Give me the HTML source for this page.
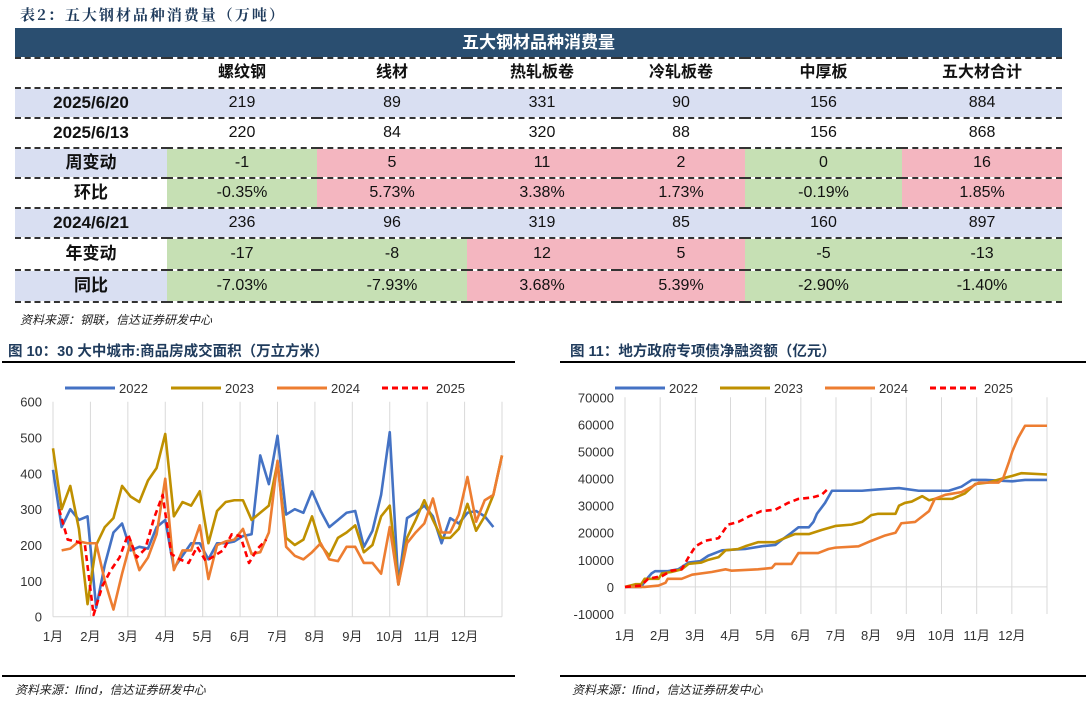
<!DOCTYPE html>
<html><head><meta charset="utf-8">
<style>
body{margin:0;width:1088px;height:701px;background:#fff;overflow:hidden;position:relative;font-family:"Liberation Sans","Noto Sans CJK SC",sans-serif;}
.abs{position:absolute;}
.cap{font-family:"Noto Serif CJK SC","Liberation Serif",serif;color:#1f3b5c;font-size:15px;font-weight:bold;letter-spacing:2px;}
.src{font-size:12px;font-style:italic;color:#222;}
.ttl{font-size:14.5px;font-weight:bold;color:#1f3b5c;}
table{border-collapse:collapse;position:absolute;left:15px;top:28px;width:1047px;font-size:16px;table-layout:fixed;}
tr{height:30px;}
td{height:28px;line-height:20px;text-align:center;padding:0;border-bottom:2px dashed #333;color:#111;box-sizing:border-box;overflow:hidden;}
tr.tall{height:32px;}
td.l{font-weight:bold;font-size:17px;}
.lav td{background:#d9dff2;}
.lav td.g,.g{background:#c6e0b4!important;}
.lav td.p,.p{background:#f4b6c0!important;}
.hd td{background:#2a4e70;color:#fff;font-weight:bold;font-size:17px;border-bottom:2px dashed #333;}
.sub td{font-weight:bold;}
</style></head><body>
<div class="abs cap" style="left:20px;top:4px;">表2：五大钢材品种消费量（万吨）</div>
<table>
<colgroup><col style="width:152px"><col style="width:150px"><col style="width:150px"><col style="width:150px"><col style="width:128px"><col style="width:157px"><col style="width:160px"></colgroup>
<tr class="hd"><td colspan="7">五大钢材品种消费量</td></tr>
<tr class="sub"><td></td><td>螺纹钢</td><td>线材</td><td>热轧板卷</td><td>冷轧板卷</td><td>中厚板</td><td>五大材合计</td></tr>
<tr class="lav"><td class="l">2025/6/20</td><td>219</td><td>89</td><td>331</td><td>90</td><td>156</td><td>884</td></tr>
<tr><td class="l">2025/6/13</td><td>220</td><td>84</td><td>320</td><td>88</td><td>156</td><td>868</td></tr>
<tr class="lav"><td class="l">周变动</td><td class="g">-1</td><td class="p">5</td><td class="p">11</td><td class="p">2</td><td class="g">0</td><td class="p">16</td></tr>
<tr><td class="l">环比</td><td class="g">-0.35%</td><td class="p">5.73%</td><td class="p">3.38%</td><td class="p">1.73%</td><td class="g">-0.19%</td><td class="p">1.85%</td></tr>
<tr class="lav"><td class="l">2024/6/21</td><td>236</td><td>96</td><td>319</td><td>85</td><td>160</td><td>897</td></tr>
<tr class="tall"><td class="l" style="height:30px">年变动</td><td class="g" style="height:30px">-17</td><td class="g">-8</td><td class="p">12</td><td class="p">5</td><td class="g">-5</td><td class="g">-13</td></tr>
<tr class="lav tall"><td class="l" style="height:30px">同比</td><td class="g" style="height:30px">-7.03%</td><td class="g">-7.93%</td><td class="p">3.68%</td><td class="p">5.39%</td><td class="g">-2.90%</td><td class="g">-1.40%</td></tr>
</table>
<div class="abs src" style="left:20px;top:311px;">资料来源：钢联，信达证券研发中心</div>
<div class="abs ttl" style="left:8px;top:340px;">图 10：30 大中城市:商品房成交面积（万立方米）</div>
<div class="abs ttl" style="left:570px;top:340px;">图 11：地方政府专项债净融资额（亿元）</div>
<div class="abs" style="left:2px;top:361px;width:513px;height:2px;background:#000"></div>
<div class="abs" style="left:560px;top:361px;width:526px;height:2px;background:#000"></div>
<div class="abs" style="left:2px;top:675px;width:513px;height:2px;background:#000"></div>
<div class="abs" style="left:560px;top:675px;width:526px;height:2px;background:#000"></div>
<div class="abs src" style="left:15px;top:681px;">资料来源：Ifind，信达证券研发中心</div>
<div class="abs src" style="left:572px;top:681px;">资料来源：Ifind，信达证券研发中心</div>
<svg id="svg" class="abs" style="left:0;top:0" width="1088" height="701"></svg>
<script>
// Chart 10 data (weekly index, value 万平方米)
const months = ["1月","2月","3月","4月","5月","6月","7月","8月","9月","10月","11月","12月"];
const leftTicks = [0,100,200,300,400,500,600];
const s2022 = [410,250,300,270,280,25,145,235,260,185,195,190,250,270,135,170,205,205,160,205,205,210,225,230,450,370,505,285,300,290,350,295,250,270,290,295,195,240,340,515,90,275,290,310,280,205,275,260,290,295,280,250];
const s2023 = [470,300,365,245,35,200,250,275,365,335,320,380,415,510,280,320,310,350,205,295,320,325,325,270,290,310,430,220,200,215,280,200,170,220,235,255,180,200,280,310,90,220,270,325,270,220,220,245,315,240,280,340,450];
const s2024 = [185,190,210,205,205,100,20,120,210,130,165,230,385,130,185,185,255,105,200,210,215,245,175,180,235,435,195,170,160,180,205,160,155,195,195,150,150,120,250,90,205,235,260,330,235,235,285,390,265,325,340,450];
const s2025 = [300,215,210,200,5,85,130,165,230,165,190,275,340,175,160,150,195,155,170,185,230,225,150,190,215];
// Chart 11 data (day of year, cumulative 亿元 in thousands)
const rightTicks = [-10000,0,10000,20000,30000,40000,50000,60000,70000];
const d2022 = [0,14,17,23,26,37,46,55,65,72,84,104,118,130,136,144,150,159,163,166,173,179,190,205,219,237,254,280,291,300,312,335,346,365];
const v2022 = [0,0,2,5,5.8,5.8,6.5,9,9.5,11.5,13.5,14,15,15.5,17.5,20,22,22,24,27,31,35.5,35.5,35.5,36,36.5,35.5,35.5,37,39.5,39.5,39,39.5,39.5];
const d2023 = [0,9,14,17,29,32,40,49,55,66,72,81,87,98,104,115,130,138,147,159,170,182,196,205,213,219,234,237,242,248,257,263,268,283,294,303,314,326,335,343,365];
const v2023 = [0,1,1,3,3,5,5.5,6.5,8.5,9,10,11,13.5,14,15,16.5,16.5,18,19.5,19.5,21,22.5,23,24,26.5,27,27,30,31,31.5,33.5,32,32.5,32.5,34.5,38,38.5,40,41,42,41.5];
const d2024 = [0,17,29,35,37,49,58,75,87,92,115,127,130,144,150,167,176,182,202,213,225,234,239,251,257,263,268,277,291,300,306,323,327,332,335,340,346,365];
const v2024 = [0,0,0.5,1.5,3,3,4.5,5.5,6.5,6,6.5,7,8.5,8.5,12.5,12.5,14,14.5,15,17,19,20,23.5,24,26,28,32.5,34,35,37,38.5,38.5,40,46,50,55,59.5,59.5];
const d2025 = [0,14,20,32,40,49,55,61,69,81,89,98,107,118,130,141,150,162,170,175];
const v2025 = [0,0.5,3,4,6,6.5,11,15,17,18,23,24,26,28,28.5,31,32.5,33,34,36];

const NS="http://www.w3.org/2000/svg", svg=document.getElementById('svg');
function mk(tag,attrs,parent){const e=document.createElementNS(NS,tag);for(const k in attrs)e.setAttribute(k,attrs[k]);(parent||svg).appendChild(e);return e;}
const colors={"2022":"#4472c4","2023":"#bf9000","2024":"#ed7d31","2025":"#ff0000"};
const FONT='"Liberation Sans","Noto Sans CJK SC",sans-serif';

// ---- Left chart ----
const L={x0:53,x1:502,y0:616.7,y1:401.7};
const lx=i=>L.x0+i*(L.x1-L.x0)/52;
const ly=v=>L.y0-(v/600)*(L.y0-L.y1);
const gL=mk('g',{});


months.forEach((m,k)=>{
  const x=L.x0+k*(L.x1-L.x0)/12;
  const g=mk('line',{x1:x,x2:x,y1:L.y1,y2:L.y0,stroke:'#d9d9d9','stroke-width':1},gL);
  
  
  const t=mk('text',{x:x,y:641,'text-anchor':'middle','font-size':13,'font-family':FONT,fill:'#333'},gL);
  t.textContent=m;
  
  
});
{const g=mk('line',{x1:L.x1,x2:L.x1,y1:L.y1,y2:L.y0,stroke:'#d9d9d9'},gL);

}
leftTicks.forEach(v=>{
  const t=mk('text',{x:42,y:ly(v)+5,'text-anchor':'end','font-size':13,'font-family':FONT,fill:'#333'},gL);
  t.textContent=v;
  
  
});
{const a=mk('line',{x1:L.x0,x2:L.x1,y1:L.y0,y2:L.y0,stroke:'#d9d9d9','stroke-width':1},gL);

}
[["2022",s2022,0],["2023",s2023,0],["2024",s2024,1],["2025",s2025,0.7]].forEach(([n,arr,st])=>{
  const p=mk('polyline',{points:arr.map((v,i)=>lx(st+i)+','+ly(v)).join(' '),fill:'none',stroke:colors[n],'stroke-width':2.6,'stroke-linejoin':'round'},gL);
  if(n==="2025")p.setAttribute('stroke-dasharray','6,4');
  
  
});
// ---- Right chart ----
const R={x0:625,x1:1047,y0:614,y1:397.3};
const rx=d=>R.x0+d/365*(R.x1-R.x0);
const ry=v=>R.y0-((v+10000)/80000)*(R.y0-R.y1);
const gR=mk('g',{});


months.forEach((m,k)=>{
  const x=R.x0+k*(R.x1-R.x0)/12;
  const g=mk('line',{x1:x,x2:x,y1:R.y1,y2:R.y0,stroke:'#d9d9d9','stroke-width':1},gR);
  
  
  const t=mk('text',{x:x,y:640,'text-anchor':'middle','font-size':13,'font-family':FONT,fill:'#333'},gR);
  t.textContent=m;
  
  
});
{const g=mk('line',{x1:R.x1,x2:R.x1,y1:R.y1,y2:R.y0,stroke:'#d9d9d9'},gR);

}
rightTicks.forEach(v=>{
  const t=mk('text',{x:614,y:ry(v)+5,'text-anchor':'end','font-size':13,'font-family':FONT,fill:'#333'},gR);
  t.textContent=v;
  
  
});
{const a=mk('line',{x1:R.x0,x2:R.x1,y1:ry(0),y2:ry(0),stroke:'#d9d9d9','stroke-width':1},gR);

}
[["2022",d2022,v2022],["2023",d2023,v2023],["2024",d2024,v2024],["2025",d2025,v2025]].forEach(([n,ds,vs])=>{
  const p=mk('polyline',{points:ds.map((d,i)=>rx(d)+','+ry(vs[i]*1000)).join(' '),fill:'none',stroke:colors[n],'stroke-width':2.6,'stroke-linejoin':'round'},gR);
  if(n==="2025")p.setAttribute('stroke-dasharray','6,4');
  
  
});
// ---- Legends ----
function legend(xs,y,parent){
  ["2022","2023","2024","2025"].forEach((n,i)=>{
    const l=mk('line',{x1:xs[i],x2:xs[i]+50,y1:y,y2:y,stroke:colors[n],'stroke-width':3},parent);
    if(n==="2025")l.setAttribute('stroke-dasharray','6,4');
    
    
    const t=mk('text',{x:xs[i]+54,y:y+5,'font-size':13,'font-family':FONT,fill:'#333'},parent);
    t.textContent=n;
    
    
  });
}
legend([65,171,277,382],388,gL);
legend([615,720,825,930],388,gR);
</script>
</body></html>
